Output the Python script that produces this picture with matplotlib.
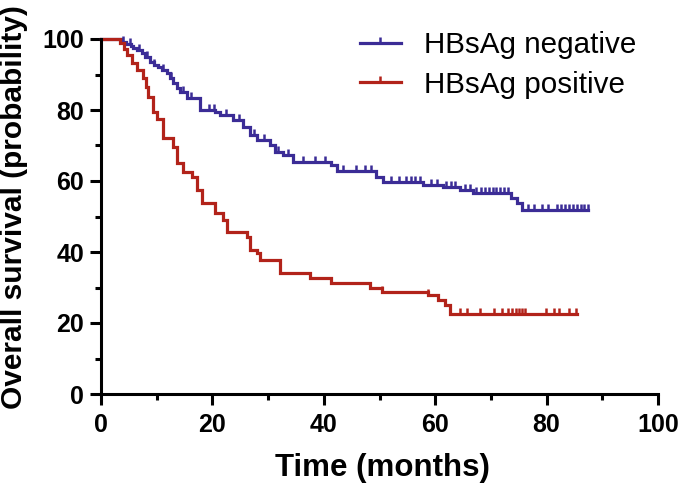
import numpy as np
import matplotlib
matplotlib.use('Agg')
import matplotlib.pyplot as plt
from matplotlib.path import Path
from matplotlib.lines import Line2D
from matplotlib.ticker import MultipleLocator

# survival steps (time in months, survival %)
neg_t = [0, 3.7, 4.5, 5.3, 5.8, 6.5, 7.3, 7.9, 8.8, 9.6, 10.2, 11.0, 11.8, 12.4,
         13.0, 13.6, 14.2, 15.4, 17.8, 20.5, 21.4, 23.7, 25.5, 26.8, 28.0,
         30.3, 31.2, 32.7, 34.5, 41.3, 42.4, 49.3, 50.6, 57.8, 61.4, 64.5,
         66.8, 73.6, 74.7, 75.6, 87.5]
neg_s = [100, 99.2, 98.6, 98.0, 97.5, 96.8, 96.0, 95.0, 93.5, 92.8, 92.0, 91.2,
         90.4, 89.0, 87.6, 86.3, 85.0, 83.5, 80.0, 79.3, 78.6, 77.2, 75.2, 73.0, 71.5,
         70.1, 68.2, 67.3, 65.4, 64.5, 62.8, 61.2, 59.8, 58.9, 58.3, 57.5,
         56.5, 55.2, 53.8, 51.8, 51.8]

pos_t = [0, 3.5, 4.2, 4.7, 5.6, 6.5, 7.5, 8.0, 8.4, 9.3, 10.0, 11.1, 12.9, 13.6,
         14.7, 16.3, 17.2, 18.1, 20.5, 21.9, 22.6, 26.2, 26.8, 28.0, 28.5,
         32.1, 37.5, 41.3, 48.3, 50.4, 58.7, 60.5, 61.8, 62.7, 85.5]
pos_s = [100, 98.9, 97.2, 95.5, 93.2, 91.3, 89.0, 86.5, 83.7, 79.4, 77.5, 72.1,
         69.6, 65.0, 62.5, 61.1, 57.5, 53.8, 51.0, 49.0, 45.6, 44.2, 40.6, 39.7,
         37.7, 34.1, 32.7, 31.3, 29.9, 28.7, 27.9, 26.5, 25.0, 22.6, 22.6]

# censored times
neg_cens = [3.9, 5.2, 6.8, 8.2, 9.6, 11.2, 12.5, 14.8, 16.2, 19.3, 20.3, 22.5,
            24.8, 27.4, 29.2, 31.8, 33.5, 36.3, 38.5, 40.3, 43.5, 45.7, 47.4,
            48.5, 52.0, 53.5, 54.7, 55.6, 56.4, 57.2, 59.2, 60.4, 62.0, 62.8,
            63.6, 65.3, 66.2, 67.4, 68.2, 68.9, 69.6, 70.3, 71.0, 71.7, 72.4,
            73.1, 76.7, 77.8, 79.1, 80.3, 81.8, 82.6, 83.3, 84.0, 84.7, 85.4,
            86.1, 86.8, 87.5]
pos_cens = [37.5, 41.3, 48.3, 50.4, 58.7, 64.4, 65.7, 68.1, 70.5, 72.0, 73.0,
            73.8, 74.5, 75.0, 75.6, 76.2, 79.9, 81.4, 82.3, 84.1, 85.3]

labels = ['HBsAg negative', 'HBsAg positive']
colors = ['#3B2C96', '#B2231A']

fam = ['Liberation Sans', 'DejaVu Sans']
tick_mark = Path([[0, 0], [0, 1]])


def step_value(t, s, x):
    i = np.searchsorted(t, x, side='right') - 1
    return np.array(s)[i]


W, H = 685, 483
fig = plt.figure(figsize=(W / 100, H / 100), dpi=100)
ax = fig.add_axes([101 / W, 1 - 394 / H, 557 / W, 355 / H])

for t, s, cens, c in [(neg_t, neg_s, neg_cens, colors[0]),
                      (pos_t, pos_s, pos_cens, colors[1])]:
    ax.plot(t, s, drawstyle='steps-post', color=c, lw=2.3, clip_on=False,
            solid_joinstyle='miter')
    ax.plot(cens, step_value(t, s, cens), ls='none', marker=tick_mark,
            ms=9, mew=1.8, color=c, clip_on=False)

ax.set_xlim(0, 100)
ax.set_ylim(0, 100)
ax.xaxis.set_major_locator(MultipleLocator(20))
ax.xaxis.set_minor_locator(MultipleLocator(10))
ax.yaxis.set_major_locator(MultipleLocator(20))
ax.yaxis.set_minor_locator(MultipleLocator(10))
for side in ['top', 'right']:
    ax.spines[side].set_visible(False)
for side in ['left', 'bottom']:
    ax.spines[side].set_linewidth(2.2)
ax.tick_params(which='major', length=8, width=2.2)
ax.tick_params(axis='x', which='major', pad=6)
ax.tick_params(axis='y', which='major', pad=4)
ax.tick_params(which='minor', length=4, width=2.2)
for lab in ax.get_xticklabels() + ax.get_yticklabels():
    lab.set_fontfamily(fam)
    lab.set_fontweight('bold')
    lab.set_fontsize(18)

fig.text(382 / W, 1 - 476 / H, 'Time (months)', fontsize=22.5, fontweight='bold',
         family=fam, ha='center', va='baseline')
fig.text(14 / W, 1 - 207 / H, 'Overall survival (probability)', fontsize=21.5,
         fontweight='bold', family=fam, rotation=90, ha='center', va='center')

handles = [Line2D([], [], color=c, lw=2.3, marker=tick_mark, ms=9, mew=1.8)
           for c in colors]
fig.legend(handles, labels, loc='upper left', bbox_to_anchor=(360 / W, 1 - 31 / H),
           frameon=False, handlelength=1.38, handletextpad=0.8,
           labelspacing=0.39, borderpad=0, borderaxespad=0, numpoints=1,
           prop={'family': fam, 'size': 21.3})

fig.savefig('out.png', dpi=100)
